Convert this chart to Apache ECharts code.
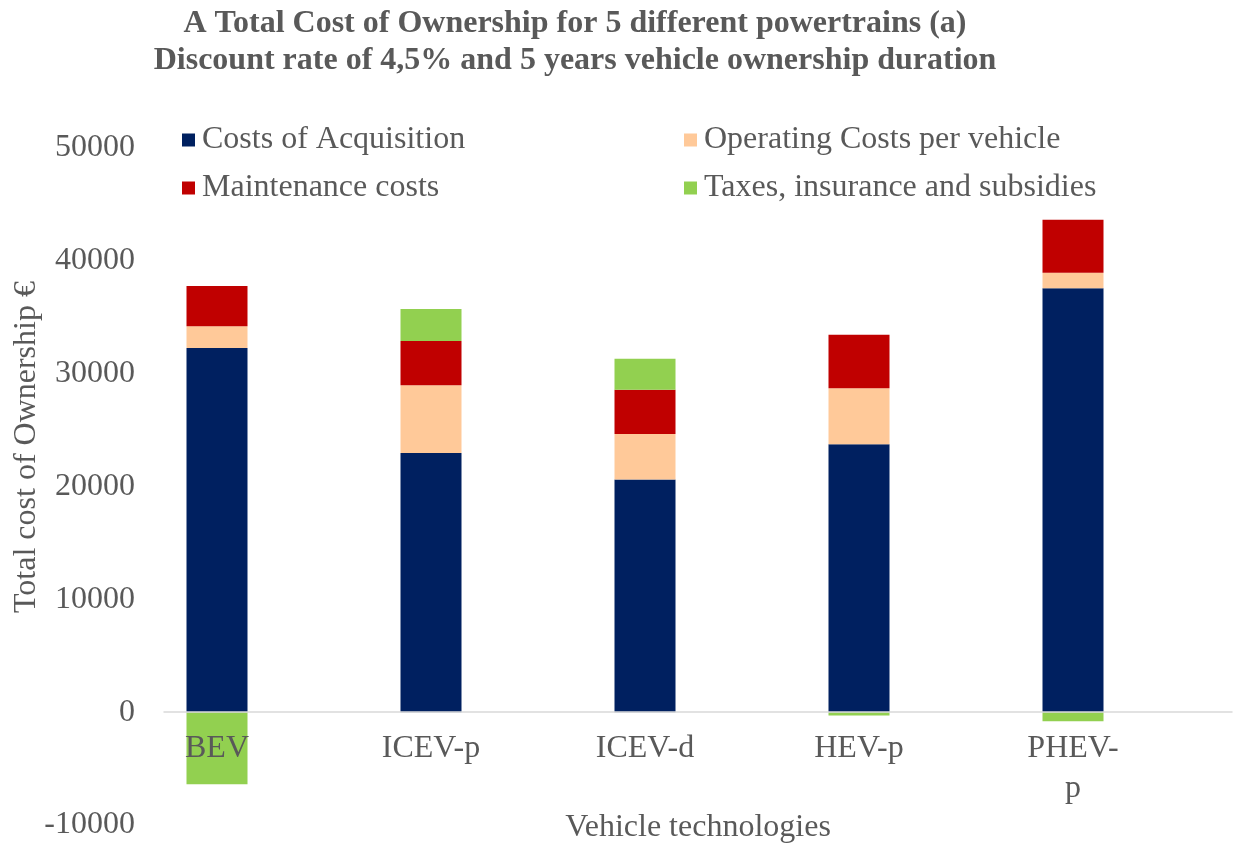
<!DOCTYPE html>
<html>
<head>
<meta charset="utf-8">
<script src="https://cdn.jsdelivr.net/npm/echarts@6/dist/echarts.min.js"></script>
<style>
  html, body { margin: 0; padding: 0; background: #fff; }
  #chart { width: 1234px; height: 843px; }
</style>
</head>
<body>
<div id="chart"></div>
<script>
// Powertrain categories
const categories = ['BEV', 'ICEV-p', 'ICEV-d', 'HEV-p', 'PHEV-p'];

// Cost components per vehicle (€)
const acquisition = [32280, 22970, 20610, 23740, 37570];
const operating   = [1920, 6000, 4050, 4970, 1380];
const maintenance = [3580, 3930, 3920, 4730, 4700];
const taxes       = [-6390, 2840, 2750, -300, -800];

const seriesNames = [
  'Costs of Acquisition',
  'Operating Costs per vehicle',
  'Maintenance costs',
  'Taxes, insurance and subsidies'
];

const yTicks = { min: -10000, max: 50000, interval: 10000 };

const textColor = '#595959';
const serif = '"Liberation Serif", "Times New Roman", serif';

const chart = echarts.init(document.getElementById('chart'));

function barSeries(name, data, color) {
  return {
    name: name,
    type: 'bar',
    stack: 'tco',
    barWidth: 61,
    xAxisIndex: 0,
    yAxisIndex: 0,
    itemStyle: { color: color },
    emphasis: { disabled: true },
    data: data
  };
}

// Two-column legend: one vertical legend per column
function legendColumn(left, names) {
  return {
    left: left,
    top: 119,
    orient: 'vertical',
    itemWidth: 13,
    itemHeight: 13,
    itemGap: 16,
    icon: 'rect',
    selectedMode: false,
    textStyle: {
      fontFamily: serif,
      fontSize: 32,
      color: textColor,
      padding: [0, 0, 0, 2]
    },
    data: names
  };
}

chart.setOption({
  animation: false,
  textStyle: { fontFamily: serif },
  title: {
    text: 'A Total Cost of Ownership for 5 different powertrains (a)\nDiscount rate of 4,5% and 5 years vehicle ownership duration',
    left: 570,
    textAlign: 'center',
    top: 0,
    textStyle: {
      fontFamily: serif,
      fontWeight: 'bold',
      fontSize: 32,
      lineHeight: 37,
      color: textColor
    }
  },
  legend: [
    legendColumn(177, [seriesNames[0], seriesNames[2]]),
    legendColumn(679, [seriesNames[1], seriesNames[3]])
  ],
  grid: [
    { left: 110, right: 54, top: 148, bottom: 18, outerBoundsMode: 'none' },
    { left: 164, right: 2, top: 148, bottom: 18, outerBoundsMode: 'none' }
  ],
  xAxis: [
    {
      type: 'category',
      gridIndex: 0,
      data: categories,
      position: 'bottom',
      offset: -113,
      z: 12,
      axisLine: { show: false, onZero: false },
      axisTick: { show: false },
      axisLabel: {
        fontFamily: serif,
        fontSize: 32,
        color: textColor,
        margin: 17,
        lineHeight: 40,
        formatter: v => v === 'PHEV-p' ? 'PHEV-\np' : v
      }
    },
    {
      type: 'category',
      gridIndex: 1,
      data: categories,
      z: 10,
      axisLine: { show: true, onZero: true, lineStyle: { color: '#d9d9d9', width: 1.5 } },
      axisTick: { show: false },
      axisLabel: { show: false },
      name: 'Vehicle technologies',
      nameLocation: 'middle',
      nameGap: -13,
      nameTextStyle: { fontFamily: serif, fontSize: 32, color: textColor }
    }
  ],
  yAxis: [
    {
      type: 'value',
      gridIndex: 0,
      min: yTicks.min, max: yTicks.max, interval: yTicks.interval,
      show: false
    },
    {
      type: 'value',
      gridIndex: 1,
      min: yTicks.min, max: yTicks.max, interval: yTicks.interval,
      axisLine: { show: false },
      axisTick: { show: false },
      splitLine: { show: false },
      axisLabel: {
        fontFamily: serif,
        fontSize: 32,
        color: textColor,
        margin: 29,
        formatter: v => String(v)
      }
    }
  ],
  graphic: [
    {
      type: 'text',
      x: 27,
      y: 447,
      rotation: Math.PI / 2,
      style: {
        text: 'Total cost of Ownership €',
        fontFamily: serif,
        fontSize: 32,
        fill: textColor,
        align: 'center',
        verticalAlign: 'middle'
      }
    }
  ],
  series: [
    barSeries(seriesNames[0], acquisition, '#002060'),
    barSeries(seriesNames[1], operating, '#FFC999'),
    barSeries(seriesNames[2], maintenance, '#C00000'),
    barSeries(seriesNames[3], taxes, '#92D050')
  ]
});
</script>
</body>
</html>
